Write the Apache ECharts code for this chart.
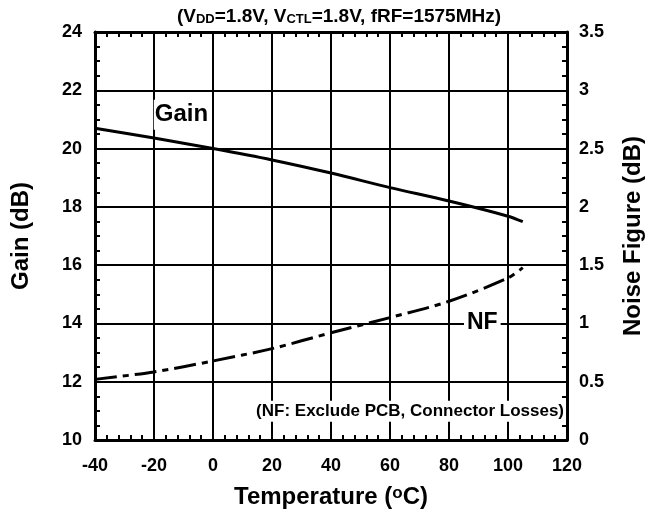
<!DOCTYPE html>
<html>
<head>
<meta charset="utf-8">
<script src="https://cdn.jsdelivr.net/npm/echarts@6/dist/echarts.min.js"></script>
<style>html,body{margin:0;padding:0;background:#fff;}#c{width:653px;height:514px;}</style>
</head>
<body>
<div id="c"></div>
<script>
const temps = [-40, -20, 0, 20, 40, 60, 80, 100, 105];
const gain = [20.70, 20.36, 20.0, 19.61, 19.16, 18.66, 18.20, 17.68, 17.49];
const nf = [0.52, 0.584, 0.678, 0.784, 0.92, 1.05, 1.19, 1.39, 1.478];
const xTicks = [-40, -20, 0, 20, 40, 60, 80, 100, 120];
const gainTicks = [10, 12, 14, 16, 18, 20, 22, 24];
const nfTicks = [0, 0.5, 1, 1.5, 2, 2.5, 3, 3.5];

const FONT = '"Liberation Sans", Arial, sans-serif';
const chart = echarts.init(document.getElementById('c'), null, {renderer: 'canvas'});
const lbl = {fontFamily: FONT, fontWeight: 'bold', fontSize: 18, color: '#000'};
const nameStyle = {fontFamily: FONT, fontWeight: 'bold', fontSize: 24, color: '#000'};
const axLine = {show: true, onZero: false, lineStyle: {color: '#000', width: 3}};
const minor = {show: true, splitNumber: 5, length: 5, lineStyle: {color: '#000', width: 2}};

chart.setOption({
  animation: false,
  backgroundColor: '#fff',
  title: {
    text: '(V{s|DD}=1.8V, V{s|CTL}=1.8V, fRF=1575MHz)',
    left: 334, textAlign: 'center', top: 2,
    textStyle: {
      fontFamily: FONT, fontWeight: 'bold', fontSize: 19, color: '#000',
      rich: {s: {fontFamily: FONT, fontWeight: 'bold', fontSize: 13, color: '#000', verticalAlign: 'bottom', padding: [5,0,0,0]}}
    }
  },
  grid: {left: 95, right: 78, top: 32, bottom: 73},
  xAxis: [{
    type: 'value', min: xTicks[0], max: xTicks[xTicks.length - 1], interval: 20, position: 'bottom',
    axisLine: axLine,
    axisTick: {show: true, inside: true, length: 5, lineStyle: {color: '#000', width: 2}},
    minorTick: minor,
    splitLine: {show: true, lineStyle: {color: '#000', width: 2}},
    axisLabel: Object.assign({margin: 17}, lbl),
    name: 'Temperature ({sup|o}C)', nameLocation: 'middle', nameGap: 45,
    nameTextStyle: Object.assign({rich: {sup: {fontFamily: FONT, fontWeight: 'bold', fontSize: 17, color: '#000', verticalAlign: 'top', padding: [0, 0, 6, 0]}}}, nameStyle)
  }, {
    type: 'value', min: xTicks[0], max: xTicks[xTicks.length - 1], interval: 20, position: 'top',
    axisLine: axLine,
    axisTick: {show: true, inside: true, length: 5, lineStyle: {color: '#000', width: 2}},
    minorTick: minor,
    splitLine: {show: false}, axisLabel: {show: false}
  }],
  yAxis: [{
    type: 'value', min: gainTicks[0], max: gainTicks[gainTicks.length - 1], interval: 2, position: 'left',
    axisLine: axLine,
    axisTick: {show: true, inside: true, length: 5, lineStyle: {color: '#000', width: 2}},
    minorTick: Object.assign({}, minor, {splitNumber: 4}),
    splitLine: {show: true, lineStyle: {color: '#000', width: 2}},
    axisLabel: Object.assign({margin: 13}, lbl),
    name: 'Gain (dB)', nameLocation: 'middle', nameGap: 62, nameRotate: 90,
    nameTextStyle: nameStyle
  }, {
    type: 'value', min: nfTicks[0], max: nfTicks[nfTicks.length - 1], interval: 0.5, position: 'right',
    axisLine: axLine,
    axisTick: {show: true, inside: true, length: 5, lineStyle: {color: '#000', width: 2}},
    minorTick: Object.assign({}, minor, {splitNumber: 4}),
    splitLine: {show: false},
    axisLabel: Object.assign({margin: 12}, lbl),
    name: 'Noise Figure (dB)', nameLocation: 'middle', nameGap: 54, nameRotate: 90,
    nameTextStyle: nameStyle
  }],
  series: [{
    name: 'Gain', type: 'line', xAxisIndex: 0, yAxisIndex: 0, smooth: 0.3, symbol: 'none',
    lineStyle: {color: '#000', width: 3},
    data: temps.map((t, i) => [t, gain[i]]),
    markPoint: {
      symbol: 'rect', symbolSize: 0, silent: true,
      label: {show: true, position: 'inside', fontFamily: FONT, fontWeight: 'bold', color: '#000', backgroundColor: '#fff'},
      data: [
        {coord: [-10.7, 21.16], value: 'Gain', label: {formatter: 'Gain', fontSize: 24, padding: [3, 1, 3, 1]}},
        {coord: [66.8, 10.99], value: 'note', label: {formatter: '(NF: Exclude PCB, Connector Losses)', fontSize: 17, padding: [2, 2, 2, 2]}}
      ]
    }
  }, {
    name: 'NF', type: 'line', xAxisIndex: 0, yAxisIndex: 1, smooth: 0.3, symbol: 'none',
    lineStyle: {color: '#000', width: 3, type: [22, 6, 6, 6]},
    data: temps.map((t, i) => [t, nf[i]]),
    markPoint: {
      symbol: 'rect', symbolSize: 0, silent: true,
      label: {show: true, position: 'inside', fontFamily: FONT, fontWeight: 'bold', color: '#000', backgroundColor: '#fff'},
      data: [
        {coord: [91.3, 1.01], value: 'NF', label: {formatter: 'NF', fontSize: 23, padding: [1, 3, 1, 3]}}
      ]
    }
  }]
});
</script>
</body>
</html>
